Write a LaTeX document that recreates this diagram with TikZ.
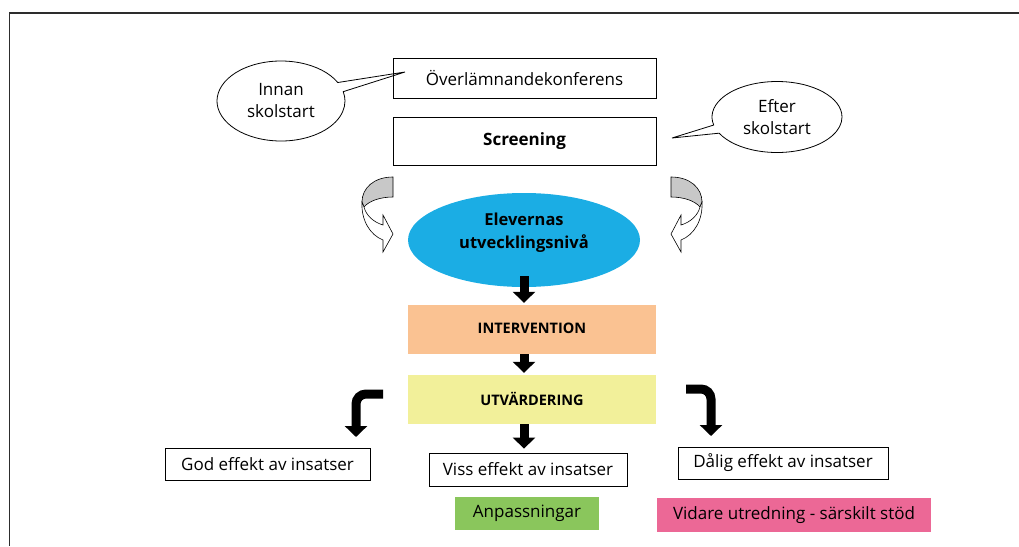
\documentclass[tikz,border=0pt]{standalone}
\usepackage{fontspec}
\setmainfont{Open Sans}
\usepackage{tikz}
\usetikzlibrary{shapes, shapes.callouts, arrows.meta}

\definecolor{elevblue}{RGB}{27,173,228}
\definecolor{intpeach}{RGB}{250,194,146}
\definecolor{utvyellow}{RGB}{242,240,154}
\definecolor{anpgreen}{RGB}{138,198,92}
\definecolor{vidpink}{RGB}{236,104,150}
\definecolor{bandgray}{RGB}{200,200,200}
\definecolor{framegray}{RGB}{45,45,45}

\newcommand{\txt}{\fontsize{17}{22}\selectfont}
\newcommand{\bendarrow}{%
\filldraw[fill=bandgray, line width=0.6pt] (0,-1) .. controls (-19,-1) and (-31,10) .. (-31,24) -- (-29,29) .. controls (-24,23) and (-13,19) .. (0,19) -- cycle;
\filldraw[fill=white, line width=0.6pt] (-31,24) .. controls (-32,42) and (-23,57) .. (-10,62) -- (-10,74) -- (0,56) -- (-10,37) -- (-10,47) .. controls (-20,44) and (-27,37) .. (-29,29) -- cycle;}

\tikzset{
  box/.style={draw, line width=0.8pt, inner sep=0pt, font=\txt},
  colbox/.style={inner sep=0pt, minimum width=248pt, minimum height=49pt, font=\fontsize{14.5}{16}\selectfont\bfseries},
  bubble/.style={ellipse callout, draw, line width=0.8pt, inner sep=0pt, align=center, font=\txt, callout pointer arc=14},
  blk/.style={line width=9pt, -{Triangle[width=22pt,length=11pt]}, shorten >=2pt}
}

\begin{document}
\begin{tikzpicture}[x=1pt, y=-1pt]
\useasboundingbox (0,0) rectangle (1019,546);
\draw[framegray, line width=2pt] (1019,13) -- (9,13);
\draw[framegray, line width=1pt] (9,13) -- (9,546);

\node[box, minimum width=263pt, minimum height=40pt] (ov) at (524.5,78) {Överlämnandekonferens};
\node[box, minimum width=263pt, minimum height=48pt, font=\txt\bfseries] (scr) at (524.5,141) {Screening};
\node[bubble, minimum width=128pt, minimum height=80pt, callout absolute pointer={(405,72)}] (innan) at (281,101) {Innan\\skolstart};
\node[bubble, minimum width=130pt, minimum height=71pt, callout absolute pointer={(672,138)}] (efter) at (777,117) {Efter\\skolstart};

\node[ellipse, fill=elevblue, inner sep=0pt, minimum width=232pt, minimum height=94pt, align=center, font=\fontsize{16.5}{23}\selectfont\bfseries] (elev) at (524,240) {Elevernas\\utvecklingsnivå\\[-4pt]};
\begin{scope}[shift={(393,178)}]
\bendarrow
\end{scope}
\begin{scope}[shift={(671,178)}, xscale=-1]
\bendarrow
\end{scope}

\node[colbox, fill=intpeach] (int) at (532,329.5) {\raisebox{3pt}{INTERVENTION}};
\node[colbox, fill=utvyellow] (utv) at (532,399.5) {\raisebox{1pt}{UTVÄRDERING}};

\node[box, minimum width=205pt, minimum height=32pt] (god) at (267.5,464) {God effekt av insatser};
\node[box, minimum width=198pt, minimum height=33pt] (viss) at (528,469.5) {Viss effekt av insatser};
\node[box, minimum width=210pt, minimum height=32pt] (dal) at (783,463) {Dålig effekt av insatser};
\node[fill=anpgreen, inner sep=0pt, minimum width=144pt, minimum height=33pt, font=\txt] (anp) at (527,513) {Anpassningar};
\node[fill=vidpink, inner sep=0pt, minimum width=274pt, minimum height=34pt, font=\txt] (vid) at (794,515) {Vidare utredning - särskilt stöd};

\draw[blk] ([yshift=11pt]elev.south) -- (elev.south |- int.north);
\draw[blk] (elev.south |- int.south) -- (elev.south |- utv.north);
\draw[blk, shorten >=4pt] (elev.south |- utv.south) -- (elev.south |- viss.north);

\coordinate (lstart) at (383,394);
\coordinate (ltip) at (356,437);
\coordinate (rstart) at (686,389);
\coordinate (rtip) at (711,436);
\draw[blk, shorten >=0pt, rounded corners=10pt] (lstart) -| (ltip);
\draw[blk, shorten >=0pt, rounded corners=10pt] (rstart) -| (rtip);
\end{tikzpicture}
\end{document}
